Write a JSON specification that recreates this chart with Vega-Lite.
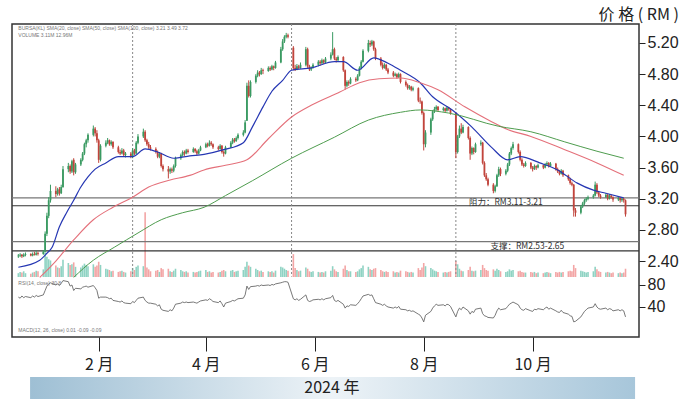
{
"$schema":"https://vega.github.io/schema/vega-lite/v6.json",
"padding":{"left":10,"top":6,"right":0,"bottom":0},
"config":{"view":{"stroke":null},"font":"Liberation Sans"},
"title":{"text":"价 格 ( RM )","anchor":"end","frame":"bounds","font":"Noto Sans CJK SC","fontSize":16,"fontWeight":"normal","color":"#222","offset":0},
"datasets":{
"px":[
{"d":"2023-12-18","o":2.46,"h":2.49,"l":2.44,"c":2.47,"v":0.6,"r":58},
{"d":"2023-12-19","o":2.47,"h":2.50,"l":2.45,"c":2.48,"v":0.8,"r":56},
{"d":"2023-12-20","o":2.48,"h":2.49,"l":2.44,"c":2.46,"v":0.7,"r":60},
{"d":"2023-12-21","o":2.46,"h":2.50,"l":2.45,"c":2.48,"v":0.9,"r":57},
{"d":"2023-12-22","o":2.48,"h":2.51,"l":2.46,"c":2.49,"v":0.6,"r":59},
{"d":"2023-12-25","o":2.49,"h":2.50,"l":2.46,"c":2.47,"v":0.5,"r":57},
{"d":"2023-12-26","o":2.47,"h":2.51,"l":2.46,"c":2.49,"v":0.7,"r":60},
{"d":"2023-12-27","o":2.49,"h":2.52,"l":2.47,"c":2.48,"v":0.8,"r":58},
{"d":"2023-12-28","o":2.48,"h":2.53,"l":2.47,"c":2.50,"v":1.0,"r":61},
{"d":"2023-12-29","o":2.50,"h":2.52,"l":2.47,"c":2.49,"v":0.9,"r":59},
{"d":"2024-01-01","o":2.49,"h":2.54,"l":2.48,"c":2.52,"v":1.2,"r":62},
{"d":"2024-01-02","o":2.52,"h":2.78,"l":2.51,"c":2.75,"v":3.8,"r":70},
{"d":"2024-01-03","o":2.75,"h":3.02,"l":2.72,"c":2.98,"v":3.2,"r":78},
{"d":"2024-01-04","o":2.98,"h":3.22,"l":2.95,"c":3.18,"v":2.8,"r":82},
{"d":"2024-01-05","o":3.18,"h":3.38,"l":3.15,"c":3.30,"v":2.6,"r":84},
{"d":"2024-01-08","o":3.30,"h":3.36,"l":3.22,"c":3.26,"v":1.8,"r":80},
{"d":"2024-01-09","o":3.26,"h":3.34,"l":3.24,"c":3.32,"v":1.5,"r":82},
{"d":"2024-01-10","o":3.32,"h":3.35,"l":3.24,"c":3.27,"v":1.4,"r":79},
{"d":"2024-01-11","o":3.27,"h":3.38,"l":3.26,"c":3.35,"v":1.7,"r":83},
{"d":"2024-01-12","o":3.35,"h":3.62,"l":3.34,"c":3.58,"v":2.7,"r":88},
{"d":"2024-01-15","o":3.58,"h":3.66,"l":3.54,"c":3.62,"v":2.2,"r":86},
{"d":"2024-01-16","o":3.62,"h":3.64,"l":3.52,"c":3.55,"v":1.9,"r":78},
{"d":"2024-01-17","o":3.55,"h":3.70,"l":3.53,"c":3.68,"v":2.0,"r":80},
{"d":"2024-01-18","o":3.70,"h":3.72,"l":3.50,"c":3.54,"v":2.3,"r":70},
{"d":"2024-01-19","o":3.54,"h":3.66,"l":3.52,"c":3.64,"v":1.6,"r":74},
{"d":"2024-01-22","o":3.64,"h":3.72,"l":3.62,"c":3.70,"v":1.5,"r":73},
{"d":"2024-01-23","o":3.70,"h":3.80,"l":3.68,"c":3.78,"v":1.8,"r":76},
{"d":"2024-01-24","o":3.78,"h":3.92,"l":3.76,"c":3.90,"v":2.1,"r":77},
{"d":"2024-01-25","o":3.90,"h":3.97,"l":3.86,"c":3.95,"v":1.9,"r":78},
{"d":"2024-01-26","o":3.95,"h":4.04,"l":3.92,"c":4.02,"v":1.7,"r":76},
{"d":"2024-01-29","o":4.02,"h":4.14,"l":4.00,"c":4.10,"v":2.0,"r":79},
{"d":"2024-01-30","o":4.10,"h":4.12,"l":4.00,"c":4.04,"v":1.6,"r":75},
{"d":"2024-01-31","o":4.04,"h":4.08,"l":3.92,"c":3.95,"v":1.8,"r":70},
{"d":"2024-02-01","o":3.95,"h":3.97,"l":3.66,"c":3.70,"v":2.4,"r":56},
{"d":"2024-02-02","o":3.70,"h":3.90,"l":3.68,"c":3.88,"v":1.9,"r":58},
{"d":"2024-02-05","o":3.88,"h":3.95,"l":3.86,"c":3.92,"v":1.3,"r":58},
{"d":"2024-02-06","o":3.92,"h":3.98,"l":3.90,"c":3.95,"v":1.2,"r":57},
{"d":"2024-02-07","o":3.95,"h":3.96,"l":3.88,"c":3.90,"v":1.1,"r":55},
{"d":"2024-02-08","o":3.90,"h":3.95,"l":3.88,"c":3.93,"v":0.9,"r":56},
{"d":"2024-02-09","o":3.93,"h":3.94,"l":3.84,"c":3.86,"v":1.0,"r":52},
{"d":"2024-02-12","o":3.86,"h":3.88,"l":3.78,"c":3.80,"v":0.8,"r":50},
{"d":"2024-02-13","o":3.80,"h":3.83,"l":3.76,"c":3.78,"v":0.9,"r":49},
{"d":"2024-02-14","o":3.78,"h":3.85,"l":3.77,"c":3.82,"v":1.0,"r":51},
{"d":"2024-02-15","o":3.82,"h":3.84,"l":3.74,"c":3.76,"v":0.8,"r":48},
{"d":"2024-02-16","o":3.76,"h":3.80,"l":3.73,"c":3.78,"v":0.7,"r":47},
{"d":"2024-02-19","o":3.78,"h":3.80,"l":3.72,"c":3.74,"v":0.9,"r":46},
{"d":"2024-02-20","o":3.74,"h":3.85,"l":3.72,"c":3.82,"v":1.4,"r":50},
{"d":"2024-02-21","o":3.82,"h":3.84,"l":3.76,"c":3.78,"v":1.1,"r":48},
{"d":"2024-02-22","o":3.78,"h":3.94,"l":3.77,"c":3.92,"v":1.6,"r":52},
{"d":"2024-02-23","o":3.92,"h":4.03,"l":3.90,"c":4.00,"v":1.8,"r":56},
{"d":"2024-02-26","o":4.00,"h":4.10,"l":3.98,"c":4.06,"v":1.7,"r":58},
{"d":"2024-02-27","o":4.06,"h":4.08,"l":3.93,"c":3.95,"v":10.2,"r":52},
{"d":"2024-02-28","o":3.95,"h":3.97,"l":3.88,"c":3.90,"v":1.5,"r":49},
{"d":"2024-02-29","o":3.90,"h":3.93,"l":3.84,"c":3.86,"v":1.2,"r":47},
{"d":"2024-03-01","o":3.86,"h":3.89,"l":3.82,"c":3.84,"v":0.9,"r":47},
{"d":"2024-03-04","o":3.84,"h":3.86,"l":3.78,"c":3.80,"v":1.0,"r":45},
{"d":"2024-03-05","o":3.80,"h":3.82,"l":3.72,"c":3.74,"v":1.1,"r":42},
{"d":"2024-03-06","o":3.74,"h":3.80,"l":3.72,"c":3.78,"v":0.8,"r":44},
{"d":"2024-03-07","o":3.78,"h":3.79,"l":3.60,"c":3.62,"v":1.4,"r":36},
{"d":"2024-03-08","o":3.62,"h":3.64,"l":3.55,"c":3.58,"v":1.2,"r":34},
{"d":"2024-03-11","o":3.58,"h":3.62,"l":3.46,"c":3.55,"v":1.3,"r":32},
{"d":"2024-03-12","o":3.55,"h":3.60,"l":3.52,"c":3.58,"v":0.9,"r":35},
{"d":"2024-03-13","o":3.58,"h":3.60,"l":3.53,"c":3.56,"v":0.8,"r":33},
{"d":"2024-03-14","o":3.56,"h":3.64,"l":3.54,"c":3.62,"v":1.0,"r":38},
{"d":"2024-03-15","o":3.62,"h":3.74,"l":3.60,"c":3.72,"v":1.3,"r":45},
{"d":"2024-03-18","o":3.72,"h":3.78,"l":3.70,"c":3.76,"v":1.1,"r":47},
{"d":"2024-03-19","o":3.76,"h":3.82,"l":3.74,"c":3.80,"v":0.9,"r":49},
{"d":"2024-03-20","o":3.80,"h":3.82,"l":3.75,"c":3.78,"v":0.8,"r":48},
{"d":"2024-03-21","o":3.78,"h":3.84,"l":3.77,"c":3.82,"v":0.9,"r":49},
{"d":"2024-03-22","o":3.82,"h":3.84,"l":3.78,"c":3.80,"v":0.7,"r":48},
{"d":"2024-03-25","o":3.80,"h":3.86,"l":3.79,"c":3.84,"v":0.8,"r":49},
{"d":"2024-03-26","o":3.84,"h":3.85,"l":3.79,"c":3.81,"v":0.7,"r":48},
{"d":"2024-03-27","o":3.81,"h":3.83,"l":3.76,"c":3.78,"v":0.8,"r":47},
{"d":"2024-03-28","o":3.78,"h":3.84,"l":3.77,"c":3.82,"v":0.9,"r":49},
{"d":"2024-03-29","o":3.82,"h":3.88,"l":3.81,"c":3.86,"v":1.0,"r":51},
{"d":"2024-04-01","o":3.86,"h":3.92,"l":3.85,"c":3.90,"v":1.1,"r":53},
{"d":"2024-04-02","o":3.90,"h":3.92,"l":3.86,"c":3.88,"v":0.8,"r":52},
{"d":"2024-04-03","o":3.88,"h":3.95,"l":3.87,"c":3.92,"v":0.9,"r":55},
{"d":"2024-04-04","o":3.92,"h":3.94,"l":3.88,"c":3.90,"v":0.7,"r":53},
{"d":"2024-04-05","o":3.90,"h":3.91,"l":3.84,"c":3.86,"v":0.8,"r":50},
{"d":"2024-04-08","o":3.86,"h":3.88,"l":3.82,"c":3.84,"v":0.7,"r":48},
{"d":"2024-04-09","o":3.84,"h":3.90,"l":3.83,"c":3.88,"v":0.8,"r":51},
{"d":"2024-04-10","o":3.88,"h":3.89,"l":3.78,"c":3.80,"v":1.0,"r":46},
{"d":"2024-04-11","o":3.80,"h":3.82,"l":3.74,"c":3.78,"v":1.1,"r":40},
{"d":"2024-04-12","o":3.78,"h":3.88,"l":3.77,"c":3.86,"v":0.9,"r":47},
{"d":"2024-04-15","o":3.86,"h":3.94,"l":3.85,"c":3.92,"v":1.0,"r":50},
{"d":"2024-04-16","o":3.92,"h":3.98,"l":3.90,"c":3.96,"v":1.1,"r":52},
{"d":"2024-04-17","o":3.96,"h":3.98,"l":3.92,"c":3.94,"v":0.8,"r":51},
{"d":"2024-04-18","o":3.94,"h":4.00,"l":3.93,"c":3.98,"v":0.9,"r":53},
{"d":"2024-04-19","o":3.98,"h":4.04,"l":3.96,"c":4.02,"v":1.0,"r":55},
{"d":"2024-04-22","o":4.02,"h":4.08,"l":4.00,"c":4.05,"v":1.1,"r":56},
{"d":"2024-04-23","o":4.05,"h":4.21,"l":4.04,"c":4.18,"v":1.6,"r":62},
{"d":"2024-04-24","o":4.20,"h":4.69,"l":4.20,"c":4.65,"v":2.4,"r":78},
{"d":"2024-04-25","o":4.65,"h":4.72,"l":4.50,"c":4.52,"v":1.8,"r":72},
{"d":"2024-04-26","o":4.52,"h":4.72,"l":4.50,"c":4.70,"v":1.6,"r":77},
{"d":"2024-04-29","o":4.70,"h":4.80,"l":4.68,"c":4.78,"v":1.3,"r":78},
{"d":"2024-04-30","o":4.78,"h":4.85,"l":4.76,"c":4.82,"v":1.1,"r":79},
{"d":"2024-05-01","o":4.82,"h":4.84,"l":4.77,"c":4.80,"v":0.9,"r":78},
{"d":"2024-05-02","o":4.80,"h":4.88,"l":4.79,"c":4.85,"v":1.0,"r":80},
{"d":"2024-05-03","o":4.85,"h":4.87,"l":4.80,"c":4.84,"v":0.8,"r":79},
{"d":"2024-05-06","o":4.84,"h":4.90,"l":4.83,"c":4.88,"v":0.9,"r":80},
{"d":"2024-05-07","o":4.88,"h":4.90,"l":4.84,"c":4.86,"v":0.8,"r":79},
{"d":"2024-05-08","o":4.86,"h":4.92,"l":4.85,"c":4.90,"v":0.9,"r":81},
{"d":"2024-05-09","o":4.90,"h":4.91,"l":4.85,"c":4.88,"v":0.7,"r":80},
{"d":"2024-05-10","o":4.88,"h":4.97,"l":4.87,"c":4.95,"v":1.0,"r":82},
{"d":"2024-05-13","o":4.95,"h":5.15,"l":4.94,"c":5.12,"v":1.6,"r":84},
{"d":"2024-05-14","o":5.12,"h":5.25,"l":5.10,"c":5.22,"v":1.5,"r":85},
{"d":"2024-05-15","o":5.22,"h":5.30,"l":5.20,"c":5.28,"v":1.3,"r":86},
{"d":"2024-05-16","o":5.28,"h":5.33,"l":5.26,"c":5.30,"v":1.1,"r":86},
{"d":"2024-05-17","o":5.30,"h":5.32,"l":5.26,"c":5.28,"v":1.0,"r":85},
{"d":"2024-05-20","o":5.14,"h":5.16,"l":4.85,"c":4.88,"v":3.6,"r":55},
{"d":"2024-05-21","o":4.88,"h":4.92,"l":4.84,"c":4.86,"v":1.4,"r":53},
{"d":"2024-05-22","o":4.86,"h":4.93,"l":4.85,"c":4.90,"v":1.1,"r":55},
{"d":"2024-05-23","o":4.90,"h":4.92,"l":4.86,"c":4.88,"v":0.9,"r":52},
{"d":"2024-05-24","o":4.88,"h":4.95,"l":4.87,"c":4.92,"v":1.0,"r":54},
{"d":"2024-05-27","o":4.92,"h":5.15,"l":4.90,"c":5.12,"v":1.5,"r":62},
{"d":"2024-05-28","o":5.12,"h":5.14,"l":4.88,"c":4.90,"v":1.3,"r":52},
{"d":"2024-05-29","o":4.90,"h":4.92,"l":4.84,"c":4.86,"v":0.9,"r":50},
{"d":"2024-05-30","o":4.86,"h":4.90,"l":4.84,"c":4.88,"v":0.8,"r":51},
{"d":"2024-05-31","o":4.88,"h":4.94,"l":4.87,"c":4.92,"v":0.9,"r":53},
{"d":"2024-06-03","o":4.92,"h":4.98,"l":4.90,"c":4.96,"v":0.8,"r":54},
{"d":"2024-06-04","o":4.96,"h":4.98,"l":4.91,"c":4.94,"v":0.7,"r":53},
{"d":"2024-06-05","o":4.94,"h":5.00,"l":4.93,"c":4.98,"v":0.8,"r":55},
{"d":"2024-06-06","o":4.98,"h":4.99,"l":4.93,"c":4.95,"v":0.7,"r":53},
{"d":"2024-06-07","o":4.95,"h":5.02,"l":4.94,"c":5.00,"v":0.9,"r":55},
{"d":"2024-06-10","o":5.00,"h":5.08,"l":4.98,"c":5.05,"v":1.0,"r":57},
{"d":"2024-06-11","o":5.05,"h":5.34,"l":5.04,"c":5.12,"v":1.7,"r":61},
{"d":"2024-06-12","o":5.12,"h":5.14,"l":4.98,"c":5.00,"v":1.2,"r":52},
{"d":"2024-06-13","o":5.00,"h":5.02,"l":4.95,"c":4.98,"v":0.9,"r":50},
{"d":"2024-06-14","o":4.98,"h":5.04,"l":4.96,"c":5.02,"v":0.8,"r":52},
{"d":"2024-06-17","o":5.02,"h":5.03,"l":4.83,"c":4.85,"v":1.3,"r":45},
{"d":"2024-06-18","o":4.85,"h":4.86,"l":4.60,"c":4.65,"v":1.8,"r":38},
{"d":"2024-06-19","o":4.65,"h":4.72,"l":4.63,"c":4.70,"v":1.1,"r":42},
{"d":"2024-06-20","o":4.70,"h":4.72,"l":4.65,"c":4.68,"v":0.9,"r":41},
{"d":"2024-06-21","o":4.68,"h":4.76,"l":4.67,"c":4.74,"v":0.9,"r":44},
{"d":"2024-06-24","o":4.74,"h":4.76,"l":4.70,"c":4.72,"v":0.8,"r":43},
{"d":"2024-06-25","o":4.72,"h":4.80,"l":4.71,"c":4.78,"v":0.9,"r":46},
{"d":"2024-06-26","o":4.78,"h":4.90,"l":4.77,"c":4.88,"v":1.2,"r":50},
{"d":"2024-06-27","o":4.88,"h":4.98,"l":4.86,"c":4.96,"v":1.4,"r":55},
{"d":"2024-06-28","o":4.96,"h":5.12,"l":4.95,"c":5.10,"v":1.8,"r":60},
{"d":"2024-07-01","o":5.10,"h":5.24,"l":5.08,"c":5.20,"v":1.6,"r":63},
{"d":"2024-07-02","o":5.20,"h":5.23,"l":5.15,"c":5.18,"v":1.2,"r":61},
{"d":"2024-07-03","o":5.18,"h":5.24,"l":5.16,"c":5.22,"v":1.1,"r":62},
{"d":"2024-07-04","o":5.22,"h":5.23,"l":5.10,"c":5.12,"v":1.3,"r":55},
{"d":"2024-07-05","o":5.12,"h":5.14,"l":4.98,"c":5.00,"v":1.4,"r":48},
{"d":"2024-07-08","o":5.00,"h":5.02,"l":4.90,"c":4.92,"v":1.1,"r":45},
{"d":"2024-07-09","o":4.92,"h":4.95,"l":4.86,"c":4.88,"v":0.9,"r":43},
{"d":"2024-07-10","o":4.88,"h":4.94,"l":4.87,"c":4.92,"v":0.8,"r":45},
{"d":"2024-07-11","o":4.92,"h":4.93,"l":4.84,"c":4.86,"v":0.9,"r":42},
{"d":"2024-07-12","o":4.86,"h":4.88,"l":4.80,"c":4.82,"v":0.8,"r":40},
{"d":"2024-07-15","o":4.82,"h":4.84,"l":4.76,"c":4.78,"v":0.9,"r":38},
{"d":"2024-07-16","o":4.78,"h":4.82,"l":4.77,"c":4.80,"v":0.7,"r":40},
{"d":"2024-07-17","o":4.80,"h":4.81,"l":4.74,"c":4.76,"v":0.8,"r":38},
{"d":"2024-07-18","o":4.76,"h":4.82,"l":4.75,"c":4.80,"v":0.7,"r":41},
{"d":"2024-07-19","o":4.80,"h":4.81,"l":4.68,"c":4.70,"v":1.0,"r":36},
{"d":"2024-07-22","o":4.70,"h":4.72,"l":4.64,"c":4.66,"v":0.9,"r":35},
{"d":"2024-07-23","o":4.66,"h":4.68,"l":4.60,"c":4.62,"v":0.8,"r":33},
{"d":"2024-07-24","o":4.62,"h":4.66,"l":4.60,"c":4.64,"v":0.7,"r":34},
{"d":"2024-07-25","o":4.64,"h":4.65,"l":4.58,"c":4.60,"v":0.8,"r":32},
{"d":"2024-07-26","o":4.60,"h":4.64,"l":4.58,"c":4.62,"v":0.7,"r":33},
{"d":"2024-07-29","o":4.62,"h":4.63,"l":4.44,"c":4.46,"v":1.4,"r":27},
{"d":"2024-07-30","o":4.46,"h":4.50,"l":4.42,"c":4.45,"v":1.1,"r":25},
{"d":"2024-07-31","o":4.45,"h":4.46,"l":4.28,"c":4.30,"v":1.5,"r":20},
{"d":"2024-08-01","o":4.30,"h":4.32,"l":3.82,"c":3.90,"v":2.2,"r":13},
{"d":"2024-08-02","o":3.90,"h":4.08,"l":3.86,"c":4.05,"v":1.7,"r":25},
{"d":"2024-08-05","o":4.05,"h":4.24,"l":4.02,"c":4.22,"v":1.4,"r":32},
{"d":"2024-08-06","o":4.22,"h":4.34,"l":4.20,"c":4.32,"v":1.2,"r":38},
{"d":"2024-08-07","o":4.32,"h":4.38,"l":4.30,"c":4.35,"v":1.0,"r":42},
{"d":"2024-08-08","o":4.35,"h":4.40,"l":4.33,"c":4.38,"v":0.9,"r":45},
{"d":"2024-08-09","o":4.38,"h":4.39,"l":4.32,"c":4.34,"v":0.8,"r":43},
{"d":"2024-08-12","o":4.34,"h":4.38,"l":4.32,"c":4.36,"v":0.7,"r":44},
{"d":"2024-08-13","o":4.36,"h":4.37,"l":4.31,"c":4.33,"v":0.8,"r":42},
{"d":"2024-08-14","o":4.33,"h":4.39,"l":4.32,"c":4.37,"v":0.7,"r":45},
{"d":"2024-08-15","o":4.37,"h":4.38,"l":4.33,"c":4.35,"v":0.8,"r":44},
{"d":"2024-08-16","o":4.35,"h":4.36,"l":4.28,"c":4.30,"v":0.9,"r":41},
{"d":"2024-08-19","o":4.30,"h":4.31,"l":3.72,"c":3.80,"v":2.5,"r":22},
{"d":"2024-08-20","o":3.80,"h":4.02,"l":3.78,"c":4.00,"v":2.0,"r":32},
{"d":"2024-08-21","o":4.00,"h":4.14,"l":3.98,"c":4.10,"v":1.3,"r":38},
{"d":"2024-08-22","o":4.10,"h":4.17,"l":4.03,"c":4.05,"v":1.0,"r":35},
{"d":"2024-08-23","o":4.05,"h":4.15,"l":4.04,"c":4.12,"v":0.9,"r":40},
{"d":"2024-08-26","o":4.12,"h":4.13,"l":3.96,"c":3.98,"v":1.1,"r":33},
{"d":"2024-08-27","o":3.98,"h":4.00,"l":3.70,"c":3.78,"v":1.6,"r":27},
{"d":"2024-08-28","o":3.78,"h":3.87,"l":3.76,"c":3.85,"v":1.0,"r":32},
{"d":"2024-08-29","o":3.85,"h":3.86,"l":3.77,"c":3.80,"v":0.9,"r":30},
{"d":"2024-08-30","o":3.80,"h":3.92,"l":3.79,"c":3.90,"v":1.0,"r":36},
{"d":"2024-09-02","o":3.90,"h":3.95,"l":3.88,"c":3.92,"v":1.1,"r":38},
{"d":"2024-09-03","o":3.92,"h":3.93,"l":3.64,"c":3.66,"v":1.9,"r":28},
{"d":"2024-09-04","o":3.66,"h":3.68,"l":3.48,"c":3.50,"v":1.4,"r":24},
{"d":"2024-09-05","o":3.50,"h":3.53,"l":3.43,"c":3.45,"v":1.1,"r":23},
{"d":"2024-09-06","o":3.45,"h":3.47,"l":3.36,"c":3.38,"v":1.0,"r":21},
{"d":"2024-09-09","o":3.38,"h":3.40,"l":3.27,"c":3.30,"v":1.2,"r":20},
{"d":"2024-09-10","o":3.30,"h":3.38,"l":3.28,"c":3.36,"v":1.0,"r":25},
{"d":"2024-09-11","o":3.36,"h":3.52,"l":3.35,"c":3.50,"v":1.3,"r":33},
{"d":"2024-09-12","o":3.50,"h":3.61,"l":3.48,"c":3.58,"v":1.1,"r":38},
{"d":"2024-09-13","o":3.58,"h":3.60,"l":3.49,"c":3.52,"v":0.9,"r":35},
{"d":"2024-09-16","o":3.52,"h":3.58,"l":3.50,"c":3.56,"v":0.8,"r":37},
{"d":"2024-09-17","o":3.56,"h":3.66,"l":3.54,"c":3.64,"v":0.9,"r":41},
{"d":"2024-09-18","o":3.64,"h":3.80,"l":3.62,"c":3.78,"v":1.2,"r":45},
{"d":"2024-09-19","o":3.78,"h":3.87,"l":3.76,"c":3.85,"v":1.0,"r":47},
{"d":"2024-09-20","o":3.85,"h":3.93,"l":3.83,"c":3.90,"v":1.1,"r":49},
{"d":"2024-09-23","o":3.90,"h":3.91,"l":3.78,"c":3.80,"v":0.9,"r":44},
{"d":"2024-09-24","o":3.80,"h":3.82,"l":3.68,"c":3.70,"v":1.0,"r":38},
{"d":"2024-09-25","o":3.70,"h":3.72,"l":3.62,"c":3.64,"v":0.8,"r":35},
{"d":"2024-09-26","o":3.64,"h":3.66,"l":3.60,"c":3.62,"v":0.7,"r":34},
{"d":"2024-09-27","o":3.62,"h":3.68,"l":3.61,"c":3.66,"v":0.7,"r":37},
{"d":"2024-09-30","o":3.66,"h":3.67,"l":3.58,"c":3.60,"v":0.8,"r":33},
{"d":"2024-10-01","o":3.60,"h":3.62,"l":3.55,"c":3.58,"v":0.7,"r":32},
{"d":"2024-10-02","o":3.58,"h":3.64,"l":3.57,"c":3.62,"v":0.8,"r":36},
{"d":"2024-10-03","o":3.62,"h":3.63,"l":3.57,"c":3.60,"v":0.6,"r":35},
{"d":"2024-10-04","o":3.60,"h":3.65,"l":3.59,"c":3.63,"v":0.7,"r":37},
{"d":"2024-10-07","o":3.63,"h":3.64,"l":3.58,"c":3.60,"v":0.6,"r":35},
{"d":"2024-10-08","o":3.60,"h":3.66,"l":3.59,"c":3.64,"v":0.7,"r":38},
{"d":"2024-10-09","o":3.64,"h":3.68,"l":3.62,"c":3.66,"v":0.8,"r":40},
{"d":"2024-10-10","o":3.66,"h":3.67,"l":3.60,"c":3.62,"v":0.7,"r":36},
{"d":"2024-10-11","o":3.62,"h":3.67,"l":3.61,"c":3.65,"v":0.6,"r":38},
{"d":"2024-10-14","o":3.65,"h":3.66,"l":3.56,"c":3.58,"v":0.8,"r":33},
{"d":"2024-10-15","o":3.58,"h":3.60,"l":3.53,"c":3.55,"v":0.7,"r":31},
{"d":"2024-10-16","o":3.55,"h":3.57,"l":3.50,"c":3.52,"v":0.8,"r":30},
{"d":"2024-10-17","o":3.52,"h":3.58,"l":3.51,"c":3.56,"v":0.7,"r":34},
{"d":"2024-10-18","o":3.56,"h":3.57,"l":3.48,"c":3.50,"v":0.8,"r":30},
{"d":"2024-10-21","o":3.50,"h":3.51,"l":3.43,"c":3.45,"v":0.9,"r":27},
{"d":"2024-10-22","o":3.45,"h":3.47,"l":3.38,"c":3.40,"v":1.0,"r":24},
{"d":"2024-10-23","o":3.40,"h":3.42,"l":3.36,"c":3.38,"v":0.9,"r":23},
{"d":"2024-10-24","o":3.38,"h":3.39,"l":2.97,"c":3.05,"v":1.9,"r":13},
{"d":"2024-10-25","o":3.05,"h":3.08,"l":2.97,"c":3.02,"v":1.4,"r":14},
{"d":"2024-10-28","o":3.02,"h":3.12,"l":3.00,"c":3.10,"v":1.0,"r":22},
{"d":"2024-10-29","o":3.10,"h":3.16,"l":3.08,"c":3.14,"v":0.9,"r":27},
{"d":"2024-10-30","o":3.14,"h":3.20,"l":3.12,"c":3.18,"v":0.8,"r":32},
{"d":"2024-10-31","o":3.18,"h":3.22,"l":3.16,"c":3.20,"v":0.7,"r":35},
{"d":"2024-11-01","o":3.20,"h":3.24,"l":3.18,"c":3.22,"v":0.8,"r":38},
{"d":"2024-11-04","o":3.22,"h":3.26,"l":3.20,"c":3.24,"v":0.9,"r":40},
{"d":"2024-11-05","o":3.24,"h":3.42,"l":3.23,"c":3.38,"v":1.6,"r":46},
{"d":"2024-11-06","o":3.38,"h":3.40,"l":3.26,"c":3.28,"v":1.2,"r":40},
{"d":"2024-11-07","o":3.28,"h":3.30,"l":3.22,"c":3.24,"v":0.9,"r":37},
{"d":"2024-11-08","o":3.24,"h":3.26,"l":3.20,"c":3.22,"v":0.8,"r":36},
{"d":"2024-11-11","o":3.22,"h":3.27,"l":3.21,"c":3.25,"v":0.7,"r":38},
{"d":"2024-11-12","o":3.25,"h":3.26,"l":3.18,"c":3.20,"v":0.8,"r":35},
{"d":"2024-11-13","o":3.20,"h":3.26,"l":3.19,"c":3.24,"v":0.7,"r":37},
{"d":"2024-11-14","o":3.24,"h":3.25,"l":3.20,"c":3.22,"v":0.6,"r":36},
{"d":"2024-11-15","o":3.22,"h":3.23,"l":3.16,"c":3.19,"v":0.7,"r":33},
{"d":"2024-11-18","o":3.19,"h":3.23,"l":3.17,"c":3.21,"v":0.6,"r":35},
{"d":"2024-11-19","o":3.21,"h":3.22,"l":3.15,"c":3.18,"v":0.7,"r":33},
{"d":"2024-11-20","o":3.18,"h":3.22,"l":3.16,"c":3.20,"v":0.6,"r":35},
{"d":"2024-11-21","o":3.20,"h":3.21,"l":3.15,"c":3.18,"v":0.7,"r":33},
{"d":"2024-11-22","o":3.18,"h":3.19,"l":2.97,"c":3.00,"v":1.3,"r":22}
],
"ma":[
{"d":"2023-12-18","s":"b","v":2.32},{"d":"2023-12-30","s":"b","v":2.41},{"d":"2024-01-03","s":"b","v":2.50},{"d":"2024-01-06","s":"b","v":2.58},{"d":"2024-01-10","s":"b","v":2.84},{"d":"2024-01-14","s":"b","v":3.02},{"d":"2024-01-18","s":"b","v":3.18},{"d":"2024-01-22","s":"b","v":3.35},{"d":"2024-01-26","s":"b","v":3.48},{"d":"2024-01-30","s":"b","v":3.58},{"d":"2024-02-05","s":"b","v":3.66},{"d":"2024-02-12","s":"b","v":3.74},{"d":"2024-02-20","s":"b","v":3.74},{"d":"2024-02-27","s":"b","v":3.84},{"d":"2024-03-05","s":"b","v":3.80},{"d":"2024-03-14","s":"b","v":3.72},{"d":"2024-03-23","s":"b","v":3.75},{"d":"2024-03-31","s":"b","v":3.77},{"d":"2024-04-11","s":"b","v":3.83},{"d":"2024-04-22","s":"b","v":3.92},{"d":"2024-04-27","s":"b","v":4.12},{"d":"2024-05-03","s":"b","v":4.38},{"d":"2024-05-08","s":"b","v":4.58},{"d":"2024-05-14","s":"b","v":4.72},{"d":"2024-05-19","s":"b","v":4.85},{"d":"2024-05-30","s":"b","v":4.88},{"d":"2024-06-12","s":"b","v":4.96},{"d":"2024-06-17","s":"b","v":4.96},{"d":"2024-06-25","s":"b","v":4.85},{"d":"2024-07-04","s":"b","v":5.01},{"d":"2024-07-12","s":"b","v":4.94},{"d":"2024-07-19","s":"b","v":4.85},{"d":"2024-07-30","s":"b","v":4.69},{"d":"2024-08-06","s":"b","v":4.51},{"d":"2024-08-17","s":"b","v":4.34},{"d":"2024-08-28","s":"b","v":4.12},{"d":"2024-09-08","s":"b","v":3.86},{"d":"2024-09-17","s":"b","v":3.70},{"d":"2024-09-24","s":"b","v":3.74},{"d":"2024-10-05","s":"b","v":3.66},{"d":"2024-10-15","s":"b","v":3.57},{"d":"2024-10-26","s":"b","v":3.40},{"d":"2024-11-04","s":"b","v":3.31},{"d":"2024-11-11","s":"b","v":3.27},{"d":"2024-11-21","s":"b","v":3.21},
{"d":"2023-12-30","s":"r","v":2.19},{"d":"2024-01-08","s":"r","v":2.40},{"d":"2024-01-18","s":"r","v":2.67},{"d":"2024-01-29","s":"r","v":2.93},{"d":"2024-02-09","s":"r","v":3.09},{"d":"2024-02-20","s":"r","v":3.22},{"d":"2024-02-29","s":"r","v":3.35},{"d":"2024-03-12","s":"r","v":3.44},{"d":"2024-03-23","s":"r","v":3.50},{"d":"2024-03-31","s":"r","v":3.57},{"d":"2024-04-12","s":"r","v":3.63},{"d":"2024-04-24","s":"r","v":3.70},{"d":"2024-05-06","s":"r","v":3.97},{"d":"2024-05-19","s":"r","v":4.25},{"d":"2024-05-30","s":"r","v":4.40},{"d":"2024-06-15","s":"r","v":4.57},{"d":"2024-06-26","s":"r","v":4.69},{"d":"2024-07-07","s":"r","v":4.74},{"d":"2024-07-19","s":"r","v":4.75},{"d":"2024-07-30","s":"r","v":4.69},{"d":"2024-08-09","s":"r","v":4.60},{"d":"2024-08-24","s":"r","v":4.38},{"d":"2024-09-08","s":"r","v":4.19},{"d":"2024-09-17","s":"r","v":4.09},{"d":"2024-09-30","s":"r","v":4.00},{"d":"2024-10-19","s":"r","v":3.83},{"d":"2024-11-06","s":"r","v":3.66},{"d":"2024-11-21","s":"r","v":3.50},
{"d":"2024-01-18","s":"g","v":2.19},{"d":"2024-01-29","s":"g","v":2.41},{"d":"2024-02-10","s":"g","v":2.58},{"d":"2024-02-23","s":"g","v":2.76},{"d":"2024-03-07","s":"g","v":2.93},{"d":"2024-03-19","s":"g","v":3.02},{"d":"2024-03-31","s":"g","v":3.09},{"d":"2024-04-12","s":"g","v":3.24},{"d":"2024-04-27","s":"g","v":3.43},{"d":"2024-05-19","s":"g","v":3.72},{"d":"2024-06-12","s":"g","v":3.99},{"d":"2024-07-01","s":"g","v":4.21},{"d":"2024-07-19","s":"g","v":4.31},{"d":"2024-07-30","s":"g","v":4.34},{"d":"2024-08-15","s":"g","v":4.30},{"d":"2024-09-12","s":"g","v":4.13},{"d":"2024-09-30","s":"g","v":4.06},{"d":"2024-10-19","s":"g","v":3.93},{"d":"2024-11-06","s":"g","v":3.81},{"d":"2024-11-21","s":"g","v":3.72}
],
"ev":[{"d":"2024-02-20"},{"d":"2024-05-19"},{"d":"2024-08-19"}],
"lv":[{"p":3.21,"k":"a"},{"p":3.11,"k":"b"},{"p":2.65,"k":"a"},{"p":2.53,"k":"b"}],
"lb":[{"d":"2024-09-16","p":3.16,"t":"阻力：RM3.11-3.21"},{"d":"2024-09-28","p":2.59,"t":"支撑：RM2.53-2.65"}],
"hd":[{"d":"2023-12-18","p":5.393,"t":"BURSA(KL) SMA(20, close) SMA(50, close) SMA(100, close)  3.21  3.49  3.72"},{"d":"2023-12-18","p":5.303,"t":"VOLUME  3.11M  12.96M"}],
"rh":[{"d":"2023-12-18","p":83.6,"t":"RSI(14, close)  30.8"},{"d":"2023-12-18","p":-1.8,"t":"MACD(12, 26, close)  0.01  -0.09  -0.09"}]
},
"spacing":4,
"vconcat":[
{
"width":627,"height":313,
"view":{"stroke":"#333","strokeWidth":1.5},
"resolve":{"scale":{"y":"independent"}},
"layer":[
{"data":{"name":"px"},"mark":{"type":"bar","size":1.6},
 "encoding":{
  "x":{"field":"d","type":"temporal","scale":{"type":"utc","domain":[{"year":2023,"month":12,"date":17,"hours":6,"utc":true},{"year":2024,"month":11,"date":26,"hours":18,"utc":true}]},
   "axis":{"orient":"bottom","values":[{"year":2024,"month":2,"date":1,"utc":true},{"year":2024,"month":4,"date":1,"utc":true},{"year":2024,"month":6,"date":1,"utc":true},{"year":2024,"month":8,"date":1,"utc":true},{"year":2024,"month":10,"date":1,"utc":true}],
   "labelExpr":"(utcmonth(datum.value)+1) + ' 月'","title":null,"domain":false,"grid":false,"tickSize":14,"tickColor":"#222","tickWidth":1,"labelFontSize":16,"labelFont":"Noto Sans CJK SC","labelColor":"#222","labelPadding":5}},
  "y":{"field":"v","type":"quantitative","scale":{"domain":[-9.45,39.84],"zero":false,"nice":false},"axis":null},
  "y2":{"datum":0},
  "color":{"condition":{"test":"datum.c>=datum.o","value":"#8fd3c3"},"value":"#f3a5a5"}}},
{"layer":[
 {"data":{"name":"lv"},"mark":{"type":"rule","strokeWidth":1.2},
  "encoding":{"y":{"field":"p","type":"quantitative","scale":{"domain":[1.424,5.444],"zero":false,"nice":false},
   "axis":{"orient":"right","values":[2.4,2.8,3.2,3.6,4.0,4.4,4.8,5.2],"format":".2f","title":null,"domain":false,"grid":false,"tickSize":6,"tickColor":"#222","labelFontSize":16,"labelColor":"#222","labelPadding":2,"labelFont":"Liberation Sans"}},
   "color":{"condition":{"test":"datum.k=='a'","value":"#777"},"value":"#333"}}},
 {"data":{"name":"ev"},"mark":{"type":"rule","strokeDash":[2,2],"color":"#888","strokeWidth":1},
  "encoding":{"x":{"field":"d","type":"temporal","scale":{"type":"utc","domain":[{"year":2023,"month":12,"date":17,"hours":6,"utc":true},{"year":2024,"month":11,"date":26,"hours":18,"utc":true}]}},
   "y":{"datum":5.444,"type":"quantitative","scale":{"domain":[1.424,5.444],"zero":false,"nice":false}},"y2":{"datum":2.2}}},
 {"data":{"name":"px"},"mark":{"type":"rule","strokeWidth":1},
  "encoding":{"x":{"field":"d","type":"temporal","scale":{"type":"utc","domain":[{"year":2023,"month":12,"date":17,"hours":6,"utc":true},{"year":2024,"month":11,"date":26,"hours":18,"utc":true}]}},
   "y":{"field":"l","type":"quantitative","scale":{"domain":[1.424,5.444],"zero":false,"nice":false}},"y2":{"field":"h"},
   "color":{"condition":{"test":"datum.c>=datum.o","value":"#3a9a62"},"value":"#c1443c"}}},
 {"data":{"name":"px"},"mark":{"type":"bar","size":1.8},
  "encoding":{"x":{"field":"d","type":"temporal","scale":{"type":"utc","domain":[{"year":2023,"month":12,"date":17,"hours":6,"utc":true},{"year":2024,"month":11,"date":26,"hours":18,"utc":true}]}},
   "y":{"field":"o","type":"quantitative","scale":{"domain":[1.424,5.444],"zero":false,"nice":false}},"y2":{"field":"c"},
   "color":{"condition":{"test":"datum.c>=datum.o","value":"#3a9a62"},"value":"#c1443c"}}},
 {"data":{"name":"ma"},"mark":{"type":"line","interpolate":"monotone"},
  "encoding":{"x":{"field":"d","type":"temporal","scale":{"type":"utc","domain":[{"year":2023,"month":12,"date":17,"hours":6,"utc":true},{"year":2024,"month":11,"date":26,"hours":18,"utc":true}]}},
   "y":{"field":"v","type":"quantitative","scale":{"domain":[1.424,5.444],"zero":false,"nice":false}},
   "color":{"field":"s","type":"nominal","scale":{"domain":["g","r","b"],"range":["#4f9d4f","#e4707a","#2637b3"]},"legend":null},
   "strokeWidth":{"field":"s","type":"nominal","scale":{"domain":["g","r","b"],"range":[1,1.2,1.8]},"legend":null}}},
 {"data":{"name":"lb"},"mark":{"type":"text","fontSize":8.5,"font":"Noto Sans CJK SC","color":"#333","baseline":"middle"},
  "encoding":{"x":{"field":"d","type":"temporal","scale":{"type":"utc","domain":[{"year":2023,"month":12,"date":17,"hours":6,"utc":true},{"year":2024,"month":11,"date":26,"hours":18,"utc":true}]}},
   "y":{"field":"p","type":"quantitative","scale":{"domain":[1.424,5.444],"zero":false,"nice":false}},"text":{"field":"t"}}},
 {"data":{"name":"hd"},"mark":{"type":"text","fontSize":5,"align":"left","color":"#777","baseline":"middle"},
  "encoding":{"x":{"field":"d","type":"temporal","scale":{"type":"utc","domain":[{"year":2023,"month":12,"date":17,"hours":6,"utc":true},{"year":2024,"month":11,"date":26,"hours":18,"utc":true}]}},
   "y":{"field":"p","type":"quantitative","scale":{"domain":[1.424,5.444],"zero":false,"nice":false}},"text":{"field":"t"}}}
]},
{"layer":[
 {"data":{"name":"px"},"mark":{"type":"line","color":"#555","strokeWidth":0.8},
  "encoding":{"x":{"field":"d","type":"temporal","scale":{"type":"utc","domain":[{"year":2023,"month":12,"date":17,"hours":6,"utc":true},{"year":2024,"month":11,"date":26,"hours":18,"utc":true}]}},
   "y":{"field":"r","type":"quantitative","scale":{"domain":[-14.55,554.5],"zero":false,"nice":false},
   "axis":{"orient":"right","values":[40,80],"format":"d","title":null,"domain":false,"grid":false,"tickSize":6,"tickColor":"#222","labelFontSize":16,"labelColor":"#222","labelPadding":2,"labelFont":"Liberation Sans"}}}},
 {"data":{"name":"rh"},"mark":{"type":"text","fontSize":5,"align":"left","color":"#777","baseline":"middle"},
  "encoding":{"x":{"field":"d","type":"temporal","scale":{"type":"utc","domain":[{"year":2023,"month":12,"date":17,"hours":6,"utc":true},{"year":2024,"month":11,"date":26,"hours":18,"utc":true}]}},
   "y":{"field":"p","type":"quantitative","scale":{"domain":[-14.55,554.5],"zero":false,"nice":false}},"text":{"field":"t"}}}
]}
]
},
{
"width":627,"height":22,
"view":{"stroke":null},
"data":{"values":[{"a":"2023-12-27T05:00:00Z","b":"2024-11-24T14:00:00Z","m":"2024-06-10T12:00:00Z","t":"2024 年"}]},
"layer":[
 {"mark":{"type":"rect","color":{"gradient":"linear","x1":0,"y1":0,"x2":1,"y2":0,"stops":[{"offset":0,"color":"#9ebfd4"},{"offset":0.5,"color":"#edf3f7"},{"offset":1,"color":"#a7c6da"}]}},
  "encoding":{"x":{"field":"a","type":"temporal","scale":{"type":"utc","domain":[{"year":2023,"month":12,"date":17,"hours":6,"utc":true},{"year":2024,"month":11,"date":26,"hours":18,"utc":true}]},"axis":null},"x2":{"field":"b"}}},
 {"mark":{"type":"text","fontSize":16,"font":"Noto Sans CJK SC","color":"#222","baseline":"middle"},
  "encoding":{"x":{"field":"m","type":"temporal","scale":{"type":"utc","domain":[{"year":2023,"month":12,"date":17,"hours":6,"utc":true},{"year":2024,"month":11,"date":26,"hours":18,"utc":true}]},"axis":null},"text":{"field":"t"}}}
]
}
]
}
